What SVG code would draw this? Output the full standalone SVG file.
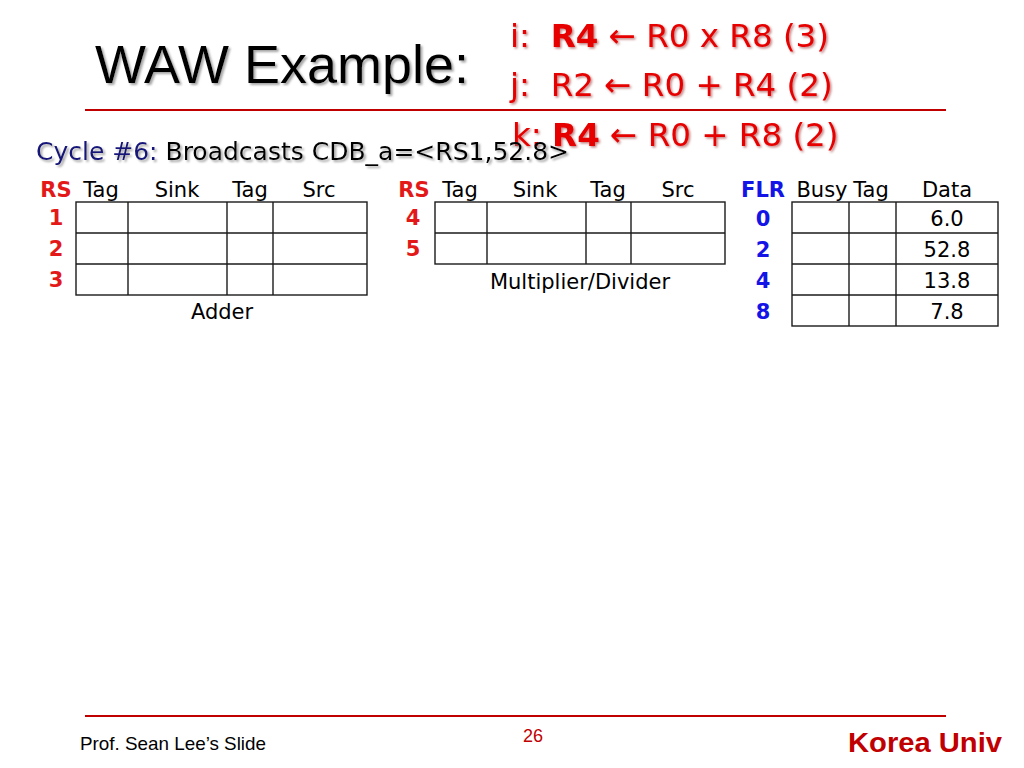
<svg xmlns="http://www.w3.org/2000/svg" width="1024" height="768" viewBox="0 0 1024 768">
<defs>
  <filter id="shadow" x="-5%" y="-20%" width="110%" height="140%">
    <feDropShadow dx="2" dy="2" stdDeviation="1" flood-color="#808080" flood-opacity="0.7"/>
  </filter>
  <filter id="shadowR" x="-5%" y="-20%" width="110%" height="140%">
    <feDropShadow dx="1.5" dy="1.5" stdDeviation="0.8" flood-color="#800000" flood-opacity="0.5"/>
  </filter>
</defs>
<style>
  .title { font-family: "Liberation Sans", Arial, sans-serif; font-size: 54px; fill: #000; }
  .instr { font-family: "DejaVu Sans", Verdana, sans-serif; font-size: 32.5px; fill: #e60000; }
  .b { font-weight: bold; }
  .cyc { font-family: "DejaVu Sans", Verdana, sans-serif; font-size: 25px; fill: #000; }
  .navy { fill: #14147a; }
  .hdr { font-family: "DejaVu Sans", Verdana, sans-serif; font-size: 21px; fill: #000; text-anchor: middle; }
  .rsl { font-family: "DejaVu Sans", Verdana, sans-serif; font-size: 21px; font-weight: bold; fill: #e31919; text-anchor: middle; }
  .fll { font-family: "DejaVu Sans", Verdana, sans-serif; font-size: 21px; font-weight: bold; fill: #1414e6; text-anchor: middle; }
  .cell { fill: none; stroke: #1a1a1a; stroke-width: 1.4; }
  .rule { stroke: #c00000; stroke-width: 2.2; }
  .foot { font-family: "Liberation Sans", Arial, sans-serif; font-size: 19px; fill: #000; }
</style>
<rect width="1024" height="768" fill="#fff"/>

<g id="title">
  <text class="title" x="95" y="83" filter="url(#shadow)">WAW Example:</text>
</g>
<line class="rule" x1="85" y1="110" x2="946" y2="110"/>

<g id="instructions" filter="url(#shadowR)">
  <text class="instr" x="510" y="47" xml:space="preserve">i:  <tspan class="b">R4</tspan> ← R0 x R8 (3)</text>
  <text class="instr" x="510" y="96" xml:space="preserve">j:  R2 ← R0 + R4 (2)</text>
  <text class="instr" x="512" y="146" xml:space="preserve">k: <tspan class="b">R4</tspan> ← R0 + R8 (2)</text>
</g>

<g id="cycle">
  <text class="cyc" x="36" y="160" filter="url(#shadow)"><tspan class="navy">Cycle #6:</tspan> Broadcasts CDB_a=&lt;RS1,52.8&gt;</text>
</g>

<g id="adder">
  <text class="rsl" x="56" y="197">RS</text>
  <text class="hdr" x="101" y="197">Tag</text>
  <text class="hdr" x="177" y="197">Sink</text>
  <text class="hdr" x="250" y="197">Tag</text>
  <text class="hdr" x="319" y="197">Src</text>
  <rect class="cell" x="76" y="202" width="291" height="93"/>
  <line class="cell" x1="76" y1="233" x2="367" y2="233"/>
  <line class="cell" x1="76" y1="264" x2="367" y2="264"/>
  <line class="cell" x1="128" y1="202" x2="128" y2="295"/>
  <line class="cell" x1="227" y1="202" x2="227" y2="295"/>
  <line class="cell" x1="273" y1="202" x2="273" y2="295"/>
  <text class="rsl" x="56" y="225">1</text>
  <text class="rsl" x="56" y="256">2</text>
  <text class="rsl" x="56" y="287">3</text>
  <text class="hdr" x="222" y="319">Adder</text>
</g>

<g id="multiplier">
  <text class="rsl" x="414" y="197">RS</text>
  <text class="hdr" x="460" y="197">Tag</text>
  <text class="hdr" x="535" y="197">Sink</text>
  <text class="hdr" x="608" y="197">Tag</text>
  <text class="hdr" x="678" y="197">Src</text>
  <rect class="cell" x="435" y="202" width="290" height="62"/>
  <line class="cell" x1="435" y1="233" x2="725" y2="233"/>
  <line class="cell" x1="487" y1="202" x2="487" y2="264"/>
  <line class="cell" x1="586" y1="202" x2="586" y2="264"/>
  <line class="cell" x1="631" y1="202" x2="631" y2="264"/>
  <text class="rsl" x="413" y="225">4</text>
  <text class="rsl" x="413" y="256">5</text>
  <text class="hdr" x="580" y="289">Multiplier/Divider</text>
</g>

<g id="flr">
  <text class="fll" x="763" y="197">FLR</text>
  <text class="hdr" x="822" y="197">Busy</text>
  <text class="hdr" x="871" y="197">Tag</text>
  <text class="hdr" x="947" y="197">Data</text>
  <rect class="cell" x="792" y="202" width="206" height="124"/>
  <line class="cell" x1="792" y1="233" x2="998" y2="233"/>
  <line class="cell" x1="792" y1="264" x2="998" y2="264"/>
  <line class="cell" x1="792" y1="295" x2="998" y2="295"/>
  <line class="cell" x1="849" y1="202" x2="849" y2="326"/>
  <line class="cell" x1="896" y1="202" x2="896" y2="326"/>
  <text class="fll" x="763" y="226">0</text>
  <text class="fll" x="763" y="257">2</text>
  <text class="fll" x="763" y="288">4</text>
  <text class="fll" x="763" y="319">8</text>
  <text class="hdr" x="947" y="226">6.0</text>
  <text class="hdr" x="947" y="257">52.8</text>
  <text class="hdr" x="947" y="288">13.8</text>
  <text class="hdr" x="947" y="319">7.8</text>
</g>

<g id="connectors"/>

<g id="footer">
  <line class="rule" x1="85" y1="716" x2="946" y2="716"/>
  <text class="foot" x="80" y="750" textLength="186" lengthAdjust="spacingAndGlyphs">Prof. Sean Lee’s Slide</text>
  <text class="foot" x="533" y="742" style="fill:#c00000; font-size:18px" text-anchor="middle">26</text>
  <text x="848" y="752" textLength="154" lengthAdjust="spacingAndGlyphs" style="font-family:'Liberation Sans', Arial, sans-serif; font-size:28px; font-weight:bold; fill:#c00000">Korea Univ</text>
</g>
</svg>
